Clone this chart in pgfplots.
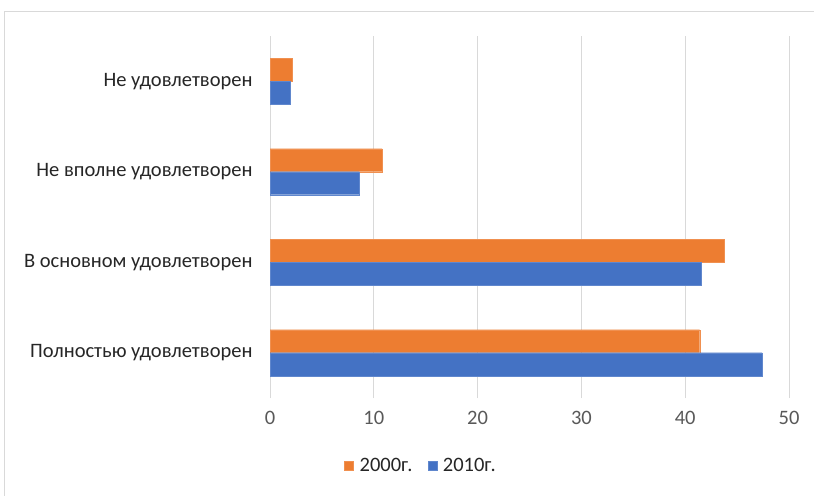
\documentclass[border=0pt]{standalone}
\usepackage{pgfplots}
\pgfplotsset{compat=1.18}
\usepackage{fontspec}
\setmainfont{Carlito}
\definecolor{xlorange}{HTML}{ED7D31}
\definecolor{xlblue}{HTML}{4472C4}
\definecolor{gridgray}{HTML}{D9D9D9}
\definecolor{labgray}{HTML}{595959}
\definecolor{catgray}{HTML}{262626}
\newcommand{\chartfont}{\fontsize{20.5bp}{24bp}\selectfont}
\begin{document}
\begin{tikzpicture}
\path[use as bounding box, clip] (0,0) rectangle (814bp,496bp);
\fill[white] (0,0) rectangle (814bp,496bp);
% chart frame (right and bottom edges fall outside the picture)
\draw[gridgray, line width=0.8bp] (4bp,-20bp) -- (4bp,485bp) -- (830bp,485bp);
\begin{axis}[
    at={(270bp,98bp)}, anchor=south west,
    scale only axis, width=519bp, height=362bp,
    xbar, bar width=23bp,
    xmin=0, xmax=50, ymin=-0.5, ymax=3.5,
    xtick={0,10,...,50},
    ytick={0,1,2,3},
    yticklabels={Полностью удовлетворен, В основном удовлетворен, Не вполне удовлетворен, Не удовлетворен},
    axis line style={draw=none},
    major tick length=0pt,
    xmajorgrids, grid style={gridgray, line width=1bp},
    ticklabel style={font=\chartfont},
    x tick label style={text=labgray, yshift=-10bp},
    y tick label style={text=catgray, xshift=-14bp},
    /pgf/number format/assume math mode=true,
    legend columns=2,
    legend style={draw=none, at={(0.291,-0.188)}, anchor=center,
        font=\chartfont, text=catgray, inner sep=0pt,
        /tikz/every even column/.append style={column sep=13bp}},
    legend image code/.code={\fill[#1] (0bp,-4.5bp) rectangle (9bp,4.5bp); \path (13bp,0bp);},
]
\addplot[fill=xlorange, draw=xlorange!85!white, bar shift=11.5bp] coordinates {
    (41.4,0) (43.8,1) (10.8,2) (2.1,3)
};
\addplot[fill=xlblue, draw=xlblue!85!white, bar shift=-11.5bp] coordinates {
    (47.4,0) (41.5,1) (8.6,2) (1.95,3)
};
\legend{2000г., 2010г.}
\end{axis}
\end{tikzpicture}
\end{document}
